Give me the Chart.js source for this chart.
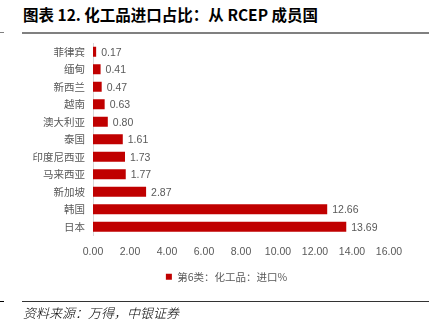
<!DOCTYPE html>
<html>
<head>
<meta charset="utf-8">
<script src="https://cdn.jsdelivr.net/npm/chart.js@4/dist/chart.umd.min.js"></script>
<style>
  body { margin: 0; background: #fff; }
  #wrap { position: relative; width: 437px; height: 333px; overflow: hidden; }
  #title { position: absolute; left: 23px; top: 3px; font: bold 15.5px "Noto Sans CJK SC", sans-serif; color: #000; white-space: nowrap; }
  .rule { position: absolute; height: 0; }
  #src { position: absolute; left: 23px; top: 303px; font: italic 300 13px "Noto Sans CJK SC", serif; color: #000; white-space: nowrap; }
  canvas { position: absolute; left: 0; top: 0; }
</style>
</head>
<body>
<div id="wrap">
  <div id="title">图表 12. 化工品进口占比：从 RCEP 成员国</div>
  <div class="rule" style="left:0;top:32px;width:4px;border-top:1px solid #808080"></div>
  <div class="rule" style="left:22px;top:32px;width:407px;border-top:2px solid #808080"></div>
  <canvas id="chart" width="437" height="333"></canvas>
  <div class="rule" style="left:0;top:301px;width:4px;border-top:1px solid #000"></div>
  <div class="rule" style="left:22px;top:301px;width:407px;border-top:1px solid #333"></div>
  <div id="src">资料来源：万得，中银证券</div>
</div>
<script>
var countries = ['菲律宾', '缅甸', '新西兰', '越南', '澳大利亚', '泰国', '印度尼西亚', '马来西亚', '新加坡', '韩国', '日本'];
var shares = [0.17, 0.41, 0.47, 0.63, 0.80, 1.61, 1.73, 1.77, 2.87, 12.66, 13.69];
var xTicks = [0, 2, 4, 6, 8, 10, 12, 14, 16];
var seriesName = '第6类：化工品：进口%';

// value labels at the end of each bar
var barLabels = {
    id: 'barLabels',
    afterDatasetsDraw: function(chart) {
        var ctx = chart.ctx;
        var meta = chart.getDatasetMeta(0);
        ctx.save();
        ctx.font = '10.5px "Liberation Sans", sans-serif';
        ctx.fillStyle = '#595959';
        ctx.textAlign = 'left';
        ctx.textBaseline = 'middle';
        meta.data.forEach(function(bar, i) {
            ctx.fillText(shares[i].toFixed(2), bar.x + 5, bar.y + 1);
        });
        ctx.restore();
    }
};

// nudge the legend to the right, where it sits in the original
var legendShift = {
    id: 'legendShift',
    afterLayout: function(chart) {
        chart.legend.left += 32;
        chart.legend.right += 32;
    }
};

new Chart(document.getElementById('chart'), {
    type: 'bar',
    data: {
        labels: countries,
        datasets: [{
            label: seriesName,
            data: shares,
            backgroundColor: '#c00000',
            borderWidth: 0,
            categoryPercentage: 0.58,
            barPercentage: 1
        }]
    },
    options: {
        indexAxis: 'y',
        responsive: false,
        animation: false,
        layout: { padding: { top: 43, left: 0, right: 48, bottom: 41 } },
        scales: {
            x: {
                min: 0,
                max: 16,
                afterBuildTicks: function(axis) {
                    axis.ticks = xTicks.map(function(v) { return { value: v }; });
                },
                afterFit: function(axis) { axis.height = 28; },
                grid: { display: false, drawTicks: false },
                border: { display: false },
                ticks: {
                    color: '#595959',
                    padding: 10,
                    font: { family: '"Liberation Sans", sans-serif', size: 10.5 },
                    callback: function(v) { return v.toFixed(2); }
                }
            },
            y: {
                grid: { display: false, drawTicks: false },
                border: { display: true, color: '#d9d9d9' },
                afterFit: function(axis) { axis.width = 93; },
                ticks: {
                    color: '#595959',
                    padding: 8,
                    font: { family: '"Noto Sans CJK SC", sans-serif', size: 10.5 }
                }
            }
        },
        plugins: {
            legend: {
                position: 'bottom',
                labels: {
                    boxWidth: 6,
                    boxHeight: 6,
                    padding: 8,
                    color: '#595959',
                    font: { family: '"Noto Sans CJK SC", sans-serif', size: 10.5 }
                }
            },
            tooltip: { enabled: false },
            title: { display: false }
        }
    },
    plugins: [barLabels, legendShift]
});
</script>
</body>
</html>
